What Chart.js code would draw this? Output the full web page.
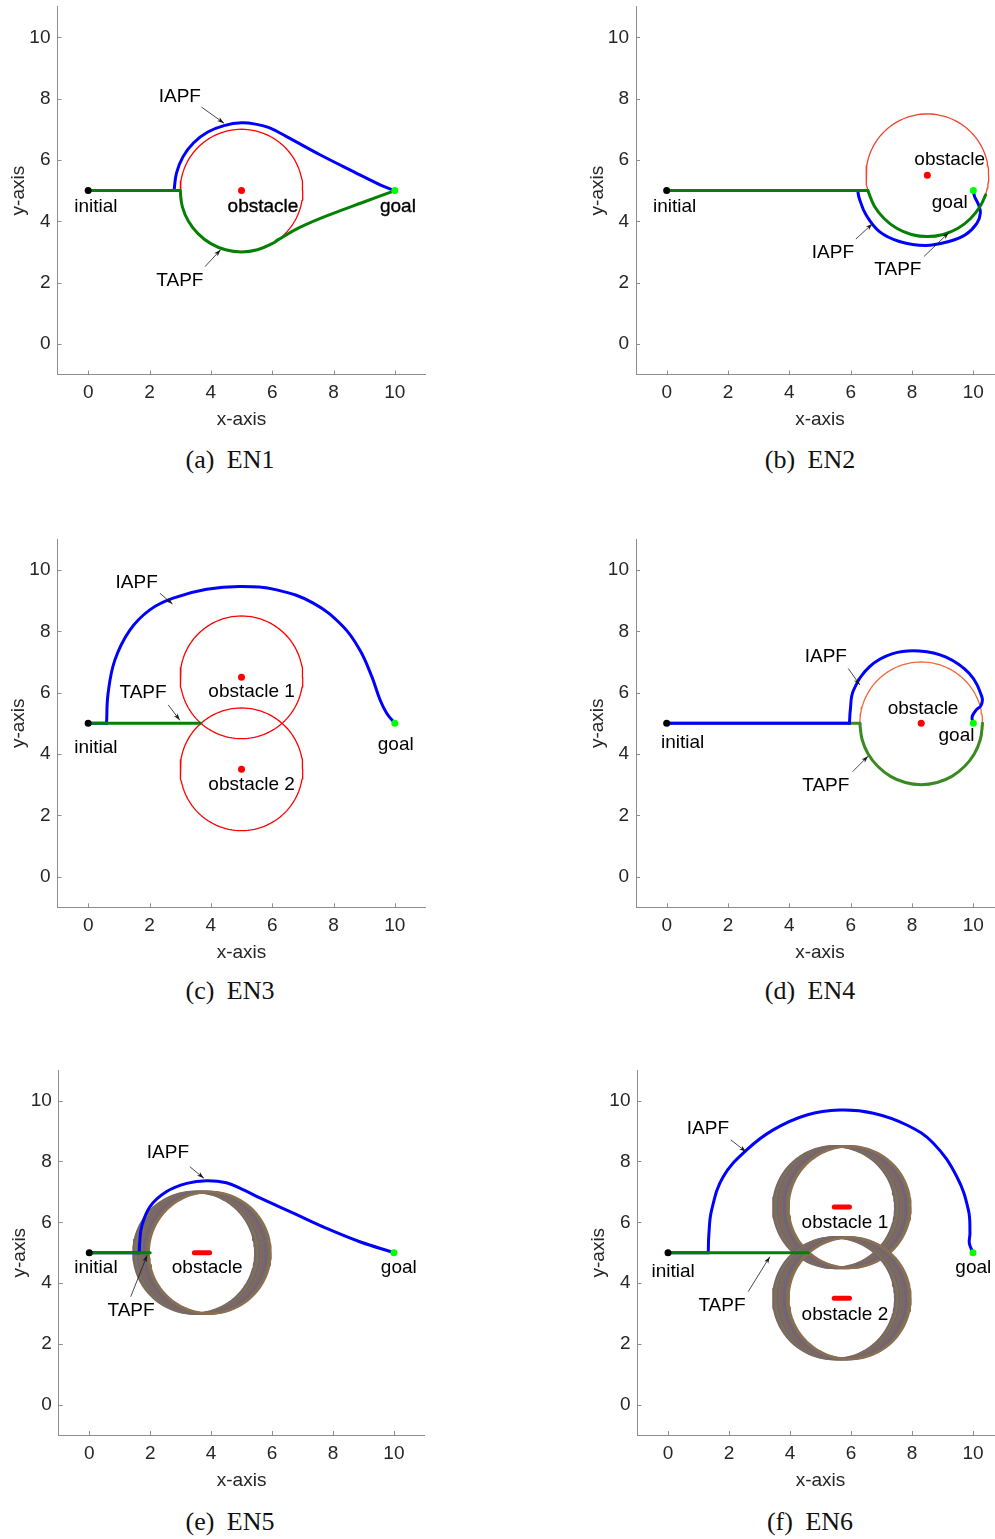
<!DOCTYPE html>
<html lang="en">
<head>
<meta charset="UTF-8" />
<title>IAPF vs TAPF paths</title>
<script src="https://cdn.jsdelivr.net/npm/chart.js"></script>
<style>
  body { margin: 0; background: #fff; overflow: hidden; }
  #page { position: relative; width: 995px; height: 1539px; overflow: hidden; }
  #page canvas { position: absolute; }
  .cap { position: absolute; width: 240px; text-align: center; font: 26px "Liberation Serif", "Times New Roman", serif; color: #111; word-spacing: 6px; line-height: 26px; }
</style>
</head>
<body>
<div id="page">
  <canvas id="en1"></canvas>
  <canvas id="en2"></canvas>
  <canvas id="en3"></canvas>
  <canvas id="en4"></canvas>
  <canvas id="en5"></canvas>
  <canvas id="en6"></canvas>
  <div class="cap" style="left:110px;top:447px">(a) EN1</div>
  <div class="cap" style="left:690px;top:447px">(b) EN2</div>
  <div class="cap" style="left:110px;top:978px">(c) EN3</div>
  <div class="cap" style="left:690px;top:978px">(d) EN4</div>
  <div class="cap" style="left:110px;top:1509px">(e) EN5</div>
  <div class="cap" style="left:690px;top:1509px">(f) EN6</div>
</div>

<script>
const FONT = '"Liberation Sans", Arial, Helvetica, sans-serif';

// axes
const tickVals = [0, 2, 4, 6, 8, 10];
const startXY = [0, 5];
const goalXY = [10, 5];
const obstRadius = 2;

// EN1
const en1IapfX = [0, 2.8, 2.88, 3.09, 3.44, 3.9, 4.43, 5.0, 5.5, 5.9, 6.47, 7.56, 8.65, 9.52, 10];
const en1IapfY = [5, 5, 5.57, 6.1, 6.56, 6.91, 7.12, 7.21, 7.16, 7.05, 6.76, 6.17, 5.62, 5.19, 5];
const en1TapfX = [0, 3.0, 3.07, 3.27, 3.59, 4.0, 4.48, 5.0, 5.52, 6.0, 6.2, 6.9, 7.99, 8.97, 10];
const en1TapfY = [5, 5, 4.48, 4.0, 3.59, 3.27, 3.07, 3.0, 3.07, 3.27, 3.4, 3.8, 4.26, 4.62, 5];
const en1Obst = [5, 5];

// EN2
const en2IapfX = [0, 6.23, 6.28, 6.5, 6.94, 7.59, 8.44, 9.2, 9.74, 10.12, 10.23, 10.17, 10.04, 10];
const en2IapfY = [5, 5, 4.75, 4.21, 3.66, 3.34, 3.21, 3.34, 3.56, 3.94, 4.27, 4.54, 4.81, 5];
const en2TapfX = [0, 6.56, 6.77, 7.09, 7.5, 7.98, 8.5, 9.02, 9.5, 9.91, 10.23, 10.4];
const en2TapfY = [5, 5, 4.5, 4.09, 3.77, 3.57, 3.5, 3.57, 3.77, 4.09, 4.5, 4.86];
const en2Obst = [8.5, 5.5];

// EN3
const en3IapfX = [0, 0.6, 0.65, 0.87, 1.36, 2.01, 2.77, 3.86, 5.0, 6.15, 7.34, 8.32, 8.86, 9.25, 9.52, 9.74, 10];
const en3IapfY = [5, 5, 5.98, 7.06, 8.04, 8.7, 9.08, 9.37, 9.46, 9.35, 8.92, 8.15, 7.39, 6.52, 5.76, 5.32, 5];
const en3TapfX = [0, 3.67];
const en3TapfY = [5, 5];
const en3Obst1 = [5, 6.5];
const en3Obst2 = [5, 3.5];

// EN4
const en4IapfX = [0, 5.96, 5.99, 6.09, 6.61, 7.37, 8.24, 9.11, 9.87, 10.28, 10.25, 10.09, 9.96, 10];
const en4IapfY = [5, 5, 5.45, 6.07, 6.84, 7.27, 7.36, 7.16, 6.62, 5.86, 5.58, 5.43, 5.21, 5];
const en4TapfX = [0, 6.3, 6.37, 6.57, 6.89, 7.3, 7.78, 8.3, 8.82, 9.3, 9.71, 10.03, 10.23, 10.3];
const en4TapfY = [5, 5, 4.48, 4.0, 3.59, 3.27, 3.07, 3.0, 3.07, 3.27, 3.59, 4.0, 4.48, 5.0];
const en4Obst = [8.3, 5];

// EN5 (moving obstacle, centre positions over time)
const en5IapfX = [0, 1.64, 1.66, 1.72, 1.99, 2.54, 3.2, 3.85, 4.5, 5.1, 5.6, 6.7, 7.79, 8.88, 10];
const en5IapfY = [5, 5, 5.4, 5.86, 6.51, 7.01, 7.28, 7.37, 7.3, 7.05, 6.8, 6.3, 5.8, 5.36, 5];
const en5TapfX = [0, 2.0];
const en5TapfY = [5, 5];
const en5ObstX = [3.45, 3.5, 3.55, 3.6, 3.65, 3.7, 3.75, 3.8, 3.85, 3.9, 3.95];
const en5ObstY = 5;

// EN6 (two moving obstacles)
const en6IapfX = [0, 1.32, 1.34, 1.43, 1.81, 2.58, 3.45, 4.55, 5.64, 6.73, 7.83, 8.7, 9.47, 9.85, 9.9, 9.88, 10];
const en6IapfY = [5, 5, 5.6, 6.4, 7.5, 8.38, 9.04, 9.53, 9.69, 9.59, 9.2, 8.6, 7.5, 6.4, 5.64, 5.31, 5];
const en6TapfX = [0, 4.6];
const en6TapfY = [5, 5];
const en6ObstX = [5.45, 5.5, 5.55, 5.6, 5.65, 5.7, 5.75, 5.8, 5.85, 5.9, 5.95];
const en6Obst1Y = 6.5;
const en6Obst2Y = 3.5;

const BLUE = '#0000ff';
const GREEN = '#058005';
const ringColors = ['#7e5f6e', '#6f7658', '#8c6e52', '#5f6c7a', '#806b62', '#915f58', '#677462', '#765f86'];

function pts(xs, ys) {
  return xs.map((v, i) => ({x: v, y: ys[i]}));
}

function line(data, color, width, tension) {
  return {data, borderColor: color, borderWidth: width, tension: tension || 0, showLine: true,
    pointRadius: 0, borderCapStyle: 'round', borderJoinStyle: 'round', fill: false};
}

// straight lead-in from the start, then the smooth part of the path
function path(xs, ys, color) {
  return [
    line(pts(xs.slice(0, 2), ys.slice(0, 2)), color, 3, 0),
    line(pts(xs.slice(1), ys.slice(1)), color, 3, 0.4)
  ];
}

function circle(cx, cy, color, width) {
  const out = [];
  for (let k = 0; k <= 120; k++) {
    const a = k * Math.PI / 60;
    out.push({x: cx + obstRadius * Math.cos(a), y: cy + obstRadius * Math.sin(a)});
  }
  return line(out, color, width, 0);
}

function movingObst(xs, cy) {
  const sets = xs.map((cx, i) => circle(cx, cy, ringColors[i % ringColors.length], 2.5));
  sets.push(line(xs.map(cx => ({x: cx, y: cy})), '#ff0000', 5, 0));
  return sets;
}

function dot(xy, color) {
  return {data: [{x: xy[0], y: xy[1]}], showLine: false, pointRadius: 3.5, pointHoverRadius: 3.5,
    pointBackgroundColor: color, pointBorderWidth: 0};
}

const notesPlugin = {
  id: 'notes',
  afterDatasetsDraw(chart, args, opts) {
    const {ctx, chartArea} = chart;
    const x = chart.scales.x, y = chart.scales.y;
    ctx.save();
    // MATLAB-style inward ticks
    ctx.strokeStyle = '#8c8c8c';
    ctx.lineWidth = 1;
    x.ticks.forEach(t => {
      const px = Math.round(x.getPixelForValue(t.value)) + 0.5;
      ctx.beginPath(); ctx.moveTo(px, chartArea.bottom); ctx.lineTo(px, chartArea.bottom - 4); ctx.stroke();
    });
    y.ticks.forEach(t => {
      const py = Math.round(y.getPixelForValue(t.value)) + 0.5;
      ctx.beginPath(); ctx.moveTo(chartArea.left, py); ctx.lineTo(chartArea.left + 4, py); ctx.stroke();
    });
    // arrows
    ctx.strokeStyle = '#1a1a1a';
    ctx.fillStyle = '#1a1a1a';
    ctx.lineWidth = 0.8;
    (opts.arrows || []).forEach(a => {
      const x0 = x.getPixelForValue(a[0]), y0 = y.getPixelForValue(a[1]);
      const x1 = x.getPixelForValue(a[2]), y1 = y.getPixelForValue(a[3]);
      const ang = Math.atan2(y1 - y0, x1 - x0);
      ctx.beginPath(); ctx.moveTo(x0, y0); ctx.lineTo(x1, y1); ctx.stroke();
      ctx.beginPath();
      ctx.moveTo(x1, y1);
      ctx.lineTo(x1 - 7 * Math.cos(ang) + 2.3 * Math.sin(ang), y1 - 7 * Math.sin(ang) - 2.3 * Math.cos(ang));
      ctx.lineTo(x1 - 5 * Math.cos(ang), y1 - 5 * Math.sin(ang));
      ctx.lineTo(x1 - 7 * Math.cos(ang) - 2.3 * Math.sin(ang), y1 - 7 * Math.sin(ang) + 2.3 * Math.cos(ang));
      ctx.closePath(); ctx.fill();
    });
    // text labels
    ctx.font = '19px ' + FONT;
    ctx.textAlign = 'center';
    ctx.textBaseline = 'middle';
    ctx.fillStyle = '#000';
    ctx.strokeStyle = '#000';
    ctx.lineWidth = 0.35;
    (opts.labels || []).forEach(l => {
      const px = x.getPixelForValue(l[1]), py = y.getPixelForValue(l[2]);
      ctx.fillText(l[0], px, py);
      if (l[3]) ctx.strokeText(l[0], px, py);
    });
    ctx.restore();
  }
};

function axis(title, pos, size) {
  return {
    type: 'linear', position: pos, min: -1, max: 11,
    afterBuildTicks: s => { s.ticks = tickVals.map(v => ({value: v})); },
    afterFit: s => { if (pos === 'bottom') s.height = size; else s.width = size; },
    grid: {display: false, drawTicks: false},
    border: {display: true, color: '#8c8c8c', width: 1},
    ticks: {color: '#262626', padding: 7, maxRotation: 0, autoSkip: false, font: {family: FONT, size: 19}},
    title: {display: true, text: title, color: '#262626', font: {family: FONT, size: 19},
      padding: pos === 'bottom' ? {top: 0, bottom: 0} : {top: 7, bottom: 0}}
  };
}

const panels = [
  {id: 'en1', L: 57.5, T: 6.6, W: 368, H: 368,
    sets: [circle(en1Obst[0], en1Obst[1], '#ff0000', 1.3), ...path(en1IapfX, en1IapfY, BLUE), ...path(en1TapfX, en1TapfY, GREEN),
      dot(en1Obst, '#ff0000'), dot(startXY, '#000'), dot(goalXY, '#00ff00')],
    notes: {
      labels: [['initial', 0.25, 4.47], ['obstacle', 5.7, 4.47, true], ['goal', 10.1, 4.47, true], ['IAPF', 2.99, 8.06], ['TAPF', 2.99, 2.06]],
      arrows: [[3.70, 7.72, 4.43, 7.20], [3.81, 2.52, 4.32, 3.07]]
    }},
  {id: 'en2', L: 636, T: 6.6, W: 368, H: 368,
    sets: [circle(en2Obst[0], en2Obst[1], '#f2452f', 1.3), ...path(en2IapfX, en2IapfY, BLUE), ...path(en2TapfX, en2TapfY, GREEN),
      dot(en2Obst, '#ff0000'), dot(startXY, '#000'), dot(goalXY, '#00ff00')],
    notes: {
      labels: [['initial', 0.26, 4.47], ['obstacle', 9.23, 6.0], ['goal', 9.23, 4.6], ['IAPF', 5.42, 2.97], ['TAPF', 7.54, 2.41]],
      arrows: [[6.17, 3.42, 6.71, 3.92], [8.39, 2.85, 9.2, 3.63]]
    }},
  {id: 'en3', L: 57.5, T: 539.3, W: 368, H: 368,
    sets: [circle(en3Obst1[0], en3Obst1[1], '#ff0000', 1.3), circle(en3Obst2[0], en3Obst2[1], '#ff0000', 1.3),
      ...path(en3IapfX, en3IapfY, BLUE), ...path(en3TapfX, en3TapfY, GREEN),
      dot(en3Obst1, '#ff0000'), dot(en3Obst2, '#ff0000'), dot(startXY, '#000'), dot(goalXY, '#00ff00')],
    notes: {
      labels: [['IAPF', 1.58, 9.57], ['TAPF', 1.79, 5.98], ['obstacle 1', 5.33, 6.03], ['obstacle 2', 5.33, 2.99], ['initial', 0.25, 4.19], ['goal', 10.03, 4.29]],
      arrows: [[2.34, 9.24, 2.75, 8.89], [2.61, 5.6, 2.99, 5.1]]
    }},
  {id: 'en4', L: 636, T: 539.3, W: 368, H: 368,
    sets: [circle(en4Obst[0], en4Obst[1], '#f06a37', 1.3), ...path(en4TapfX, en4TapfY, '#3a8a22'), ...path(en4IapfX, en4IapfY, BLUE),
      dot(en4Obst, '#ff0000'), dot(startXY, '#000'), dot(goalXY, '#00ff00')],
    notes: {
      labels: [['IAPF', 5.19, 7.16], ['TAPF', 5.19, 2.95], ['obstacle', 8.36, 5.49], ['goal', 9.45, 4.58], ['initial', 0.52, 4.36]],
      arrows: [[5.92, 6.79, 6.30, 6.25], [6.06, 3.42, 6.57, 3.93]]
    }},
  {id: 'en5', L: 58.8, T: 1070.3, W: 365.6, H: 364.8,
    sets: [...movingObst(en5ObstX, en5ObstY), ...path(en5IapfX, en5IapfY, BLUE), ...path(en5TapfX, en5TapfY, GREEN),
      dot(startXY, '#000'), dot(goalXY, '#00ff00')],
    notes: {
      labels: [['IAPF', 2.58, 8.28], ['TAPF', 1.37, 3.08], ['initial', 0.22, 4.5], ['obstacle', 3.87, 4.5], ['goal', 10.16, 4.5]],
      arrows: [[3.3, 7.83, 3.76, 7.45], [1.36, 3.55, 1.9, 4.92]]
    }},
  {id: 'en6', L: 637.5, T: 1070.3, W: 366, H: 364.8,
    sets: [...movingObst(en6ObstX, en6Obst1Y), ...movingObst(en6ObstX, en6Obst2Y),
      ...path(en6IapfX, en6IapfY, BLUE), ...path(en6TapfX, en6TapfY, GREEN),
      dot(startXY, '#000'), dot(goalXY, '#00ff00')],
    notes: {
      labels: [['IAPF', 1.31, 9.07], ['TAPF', 1.77, 3.25], ['obstacle 1', 5.8, 5.97], ['obstacle 2', 5.8, 2.95], ['initial', 0.17, 4.38], ['goal', 10.01, 4.49]],
      arrows: [[2.06, 8.71, 2.56, 8.32], [2.63, 3.72, 3.34, 4.87]]
    }}
];

const X_AXIS_H = 57;
const PAD_R = 12;
const PAD_T = 22;   // must exceed the half-height Chart.js reserves for the top tick label

panels.forEach(p => {
  const cv = document.getElementById(p.id);
  const left = Math.floor(p.L) - 57;
  const top = Math.floor(p.T) - PAD_T;
  const yW = p.L - left;
  const padTop = p.T - top;
  cv.width = Math.ceil(yW + p.W + PAD_R);
  cv.height = Math.ceil(padTop + p.H + X_AXIS_H);
  cv.style.left = left + 'px';
  cv.style.top = top + 'px';
  const padBottom = cv.height - (padTop + p.H + X_AXIS_H);
  const padRight = cv.width - (yW + p.W);

  new Chart(cv, {
    type: 'scatter',
    data: {datasets: p.sets.slice().reverse()},
    options: {
      responsive: false,
      animation: false,
      events: [],
      devicePixelRatio: 1,
      layout: {padding: {left: 0, top: padTop, right: padRight, bottom: padBottom}},
      plugins: {legend: {display: false}, tooltip: {enabled: false}, notes: p.notes},
      scales: {x: axis('x-axis', 'bottom', X_AXIS_H), y: axis('y-axis', 'left', yW)}
    },
    plugins: [notesPlugin]
  });
});
</script>
</body>
</html>
